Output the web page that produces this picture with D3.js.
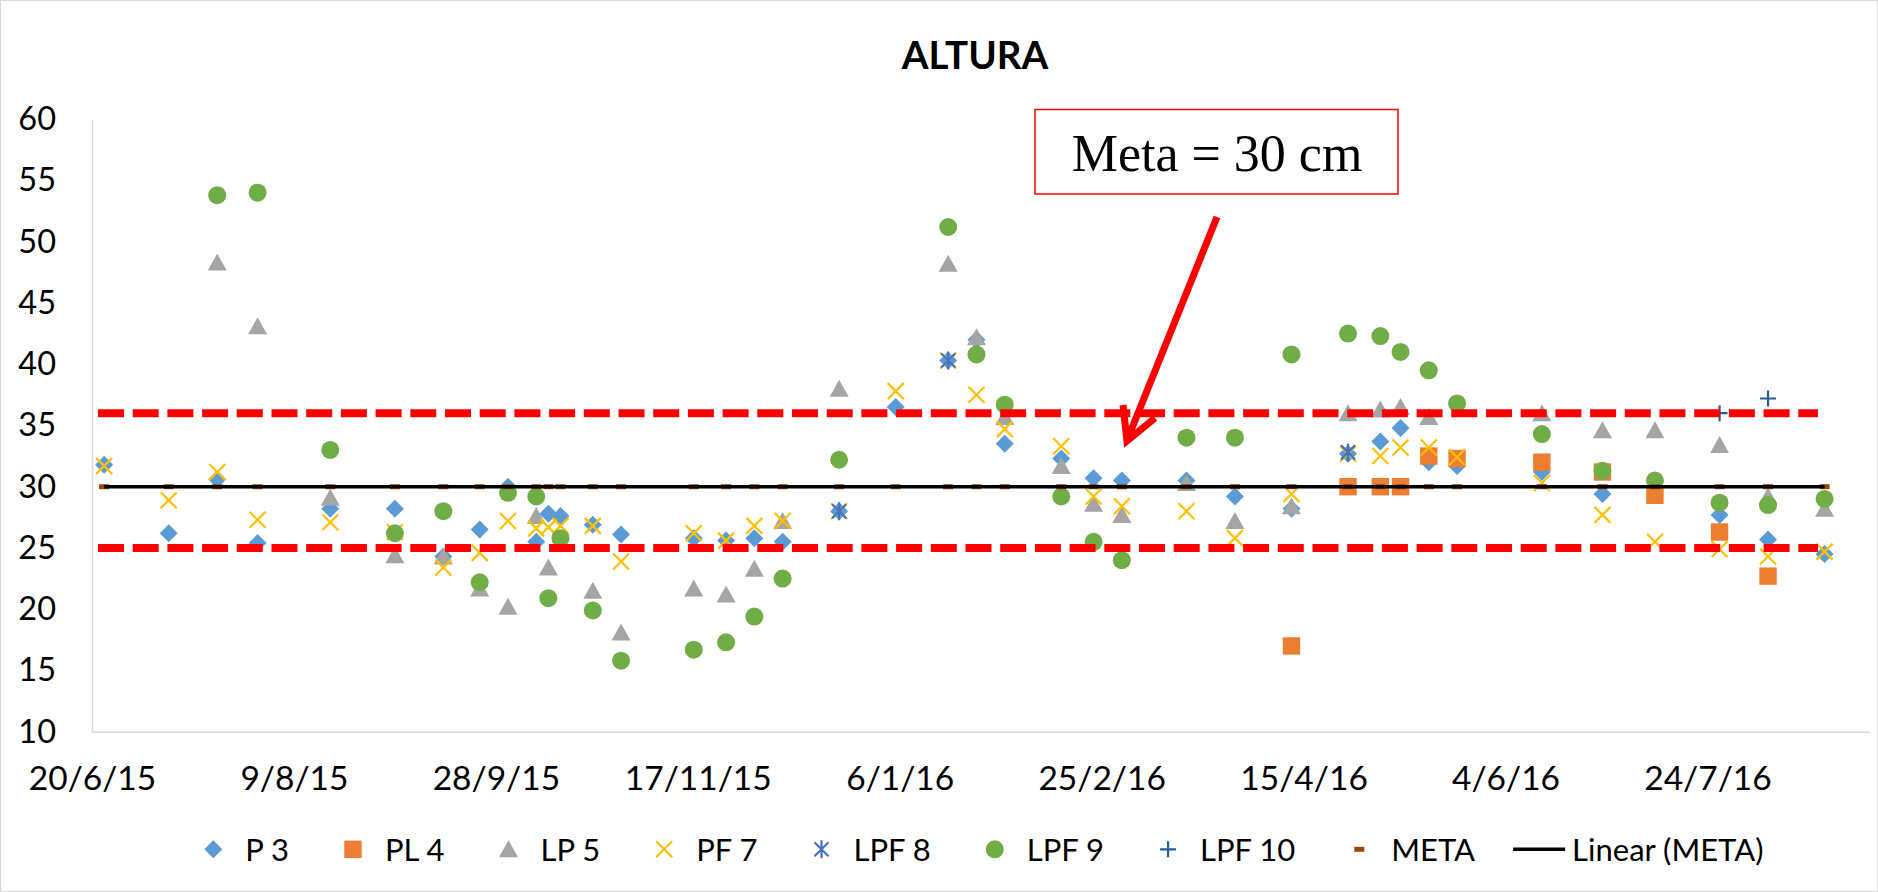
<!DOCTYPE html>
<html>
<head>
<meta charset="utf-8">
<script src="https://cdn.jsdelivr.net/npm/d3@7"></script>
<style>
  body { margin: 0; background: #fff; }
  svg { display: block; font-family: Lato, "Open Sans", sans-serif; }
</style>
</head>
<body>
<div id="chart"></div>
<script>
// sample dates (one per column of markers)
var dates = ["2015-06-23","2015-07-09","2015-07-21","2015-07-31","2015-08-18","2015-09-03","2015-09-15","2015-09-24",
  "2015-10-01","2015-10-08","2015-10-11","2015-10-14","2015-10-22","2015-10-29","2015-11-16","2015-11-24",
  "2015-12-01","2015-12-08","2015-12-22","2016-01-05","2016-01-18","2016-01-25","2016-02-01","2016-02-15",
  "2016-02-23","2016-03-01","2016-03-17","2016-03-29","2016-04-12","2016-04-26","2016-05-04","2016-05-09",
  "2016-05-16","2016-05-23","2016-06-13","2016-06-28","2016-07-11","2016-07-27","2016-08-08","2016-08-22"];

var p3   = [31.8,26.2,30.6,25.4,28.2,28.2,24.3,26.5,30.0,25.5,27.8,27.6,26.9,26.1,25.8,25.6,25.8,25.5,28.0,36.5,
            40.3,42.0,33.5,32.3,30.7,30.5,30.5,29.2,28.2,32.7,33.7,34.8,32.0,31.7,31.2,29.4,null,27.7,25.7,24.5];
var pl4  = [null,null,null,null,null,null,null,null,null,null,null,null,null,null,null,null,null,null,null,null,
            null,null,null,null,null,null,null,null,17.0,30.0,30.0,30.0,32.5,32.3,32.0,31.2,29.3,26.3,22.7,null];
var lp5  = [null,null,48.3,43.1,29.1,24.4,24.3,21.7,20.2,27.6,23.4,null,21.5,18.1,21.7,21.2,23.3,27.2,38.0,null,
            48.2,42.2,35.7,31.7,28.6,27.7,30.3,27.2,28.4,36.0,36.3,36.5,35.7,null,36.0,34.6,34.6,33.4,29.2,28.2];
var pf7  = [31.7,28.9,31.2,27.3,27.1,26.3,23.4,24.6,27.2,26.6,26.7,26.8,26.8,23.9,26.2,25.6,26.8,27.2,28.0,37.8,
            40.3,37.5,34.7,33.3,29.2,28.4,28.0,25.8,29.4,32.7,32.5,33.2,33.2,32.4,30.3,27.7,25.5,24.9,24.3,24.7];
var lpf8 = [null,null,null,null,null,null,null,null,null,null,null,null,null,null,null,null,null,null,28.0,null,
            40.3,null,null,null,null,null,null,null,null,32.8,null,null,null,null,null,null,null,null,null,null];
var lpf9 = [null,null,53.8,54.0,33.0,26.2,28.0,22.2,29.5,29.2,20.9,25.8,19.9,15.8,16.7,17.3,19.4,22.5,32.2,null,
            51.2,40.8,36.7,29.2,25.5,24.0,34.0,34.0,40.8,42.5,42.3,41.0,39.5,36.8,34.3,31.3,30.5,28.7,28.5,29.0];
var lpf10 = [null,null,null,null,null,null,null,null,null,null,null,null,null,null,null,null,null,null,null,null,
            null,null,null,null,null,null,null,null,null,null,null,null,null,null,null,null,null,36.0,37.2,null];
var meta = dates.map(function() { return 30; });

var xTicks = ["2015-06-20","2015-08-09","2015-09-28","2015-11-17","2016-01-06","2016-02-25","2016-04-15","2016-06-04","2016-07-24"];
var yTicks = [10,15,20,25,30,35,40,45,50,55,60];
var limits = [36, 25];

var W = 1878, H = 892;
var parse = d3.timeParse("%Y-%m-%d");
var fmt = function(d) { return d.getDate() + "/" + (d.getMonth() + 1) + "/" + String(d.getFullYear()).slice(2); };

var svg = d3.select("#chart").append("svg").attr("width", W).attr("height", H);

svg.append("rect").attr("x", 0.5).attr("y", 0.5).attr("width", W - 1).attr("height", H - 1)
  .attr("fill", "#fff").attr("stroke", "#d9d9d9");

var x = d3.scaleTime().domain([parse("2015-06-20"), parse("2016-09-02")]).range([92, 1869]);
var y = d3.scaleLinear().domain([10, 60]).range([731.7, 119.2]);

// title
svg.append("text").attr("x", 975).attr("y", 69).attr("text-anchor", "middle")
  .style("font-size", "38.5px").style("font-weight", "bold").text("ALTURA");

// axes
var yAxis = svg.append("g").attr("transform", "translate(92,0)")
  .call(d3.axisLeft(y).tickValues(yTicks).tickSize(0).tickSizeOuter(0).tickPadding(36));
yAxis.select(".domain").attr("stroke", "#d9d9d9").attr("stroke-width", 1.5);
yAxis.selectAll("text").style("font-size", "32.5px").style("font-family", "Lato").attr("fill", "#000");

var xAxis = svg.append("g").attr("transform", "translate(0,731.7)")
  .call(d3.axisBottom(x).tickValues(xTicks.map(parse)).tickFormat(fmt).tickSize(0).tickSizeOuter(0).tickPadding(35));
xAxis.select(".domain").attr("stroke", "#d9d9d9").attr("stroke-width", 1.5);
xAxis.selectAll("text").style("font-size", "33.5px").style("font-family", "Lato").attr("fill", "#000");

// marker shapes
function sq(s) { return "M" + (-s) + "," + (-s) + "H" + s + "V" + s + "H" + (-s) + "Z"; }
var shapes = {
  diamond:  function(g, c) { g.append("path").attr("d", "M0,-9L9,0L0,9L-9,0Z").attr("fill", c); },
  square:   function(g, c) { g.append("path").attr("d", sq(8.7)).attr("fill", c); },
  triangle: function(g, c) { g.append("path").attr("d", "M0,-9L9.5,8L-9.5,8Z").attr("fill", c); },
  cross:    function(g, c) { g.append("path").attr("d", "M-8,-8L8,8M8,-8L-8,8").attr("stroke", c).attr("stroke-width", 2.2); },
  star:     function(g, c) { g.append("path").attr("d", "M-7,-7L7,7M7,-7L-7,7M0,-9V9").attr("stroke", c).attr("stroke-width", 2.2); },
  circle:   function(g, c) { g.append("circle").attr("r", 9).attr("fill", c); },
  plus:     function(g, c) { g.append("path").attr("d", "M-8,0H8M0,-8V8").attr("stroke", c).attr("stroke-width", 2.2); },
  dash:     function(g, c) { g.append("rect").attr("x", -5).attr("y", -2.5).attr("width", 10).attr("height", 5).attr("fill", c); }
};

var series = [
  { name: "P 3",    values: p3,    color: "#5b9bd5", shape: "diamond" },
  { name: "PL 4",   values: pl4,   color: "#ed7d31", shape: "square" },
  { name: "LP 5",   values: lp5,   color: "#a5a5a5", shape: "triangle" },
  { name: "PF 7",   values: pf7,   color: "#ffc000", shape: "cross" },
  { name: "LPF 8",  values: lpf8,  color: "#4472c4", shape: "star" },
  { name: "LPF 9",  values: lpf9,  color: "#70ad47", shape: "circle" },
  { name: "LPF 10", values: lpf10, color: "#255e91", shape: "plus" },
  { name: "META",   values: meta,  color: "#9e480e", shape: "dash" }
];

var plot = svg.append("g");
series.forEach(function(s) {
  var pts = dates.map(function(d, i) { return { date: parse(d), v: s.values[i] }; })
    .filter(function(p) { return p.v != null; });
  plot.append("g").selectAll("g").data(pts).join("g")
    .attr("transform", function(p) { return "translate(" + x(p.date) + "," + y(p.v) + ")"; })
    .each(function() { shapes[s.shape](d3.select(this), s.color); });
});

// Linear (META) trend line: least squares fit
var xs = dates.map(function(d) { return +parse(d); });
var mx = d3.mean(xs), my = d3.mean(meta);
var num = d3.sum(xs, function(v, i) { return (v - mx) * (meta[i] - my); });
var den = d3.sum(xs, function(v) { return (v - mx) * (v - mx); });
var slope = num / den, icpt = my - slope * mx;
var x0 = d3.min(xs), x1 = d3.max(xs);
svg.append("line")
  .attr("x1", x(new Date(x0))).attr("y1", y(icpt + slope * x0))
  .attr("x2", x(new Date(x1))).attr("y2", y(icpt + slope * x1))
  .attr("stroke", "#000").attr("stroke-width", 3.5);

// red dashed limit lines
svg.selectAll(".limit").data(limits).join("line").attr("class", "limit")
  .attr("x1", 98).attr("x2", 1818)
  .attr("y1", function(d) { return y(d); }).attr("y2", function(d) { return y(d); })
  .attr("stroke", "#ff0000").attr("stroke-width", 8).attr("stroke-dasharray", "26 8.7");

// annotation box + arrow
svg.append("rect").attr("x", 1035).attr("y", 109.5).attr("width", 363).attr("height", 84.5)
  .attr("fill", "#fff").attr("stroke", "#ff0000").attr("stroke-width", 1.5);
svg.append("text").attr("x", 1217).attr("y", 170.7).attr("text-anchor", "middle")
  .style("font-family", "'Liberation Serif', 'Times New Roman', serif").style("font-size", "52px")
  .text("Meta = 30 cm");
svg.append("line").attr("x1", 1217).attr("y1", 217).attr("x2", 1128).attr("y2", 438)
  .attr("stroke", "#ff0000").attr("stroke-width", 7);
svg.append("path").attr("d", "M1123,405L1127,441L1155,418")
  .attr("fill", "none").attr("stroke", "#ff0000").attr("stroke-width", 7).attr("stroke-linejoin", "miter");

// legend
var legend = svg.append("g");
var cx = 213.3, ly = 849.3;
series.concat([{ name: "Linear (META)", line: true }]).forEach(function(s) {
  var g = legend.append("g").attr("transform", "translate(" + cx + "," + ly + ")");
  if (s.line) {
    g.append("line").attr("x1", -26).attr("x2", 26).attr("stroke", "#000").attr("stroke-width", 3.5);
  } else {
    shapes[s.shape](g, s.color);
  }
  var t = g.append("text").attr("x", s.line ? 33 : 32).attr("y", 11.5)
    .style("font-size", "31px").text(s.name);
  cx = cx + (s.line ? 33 : 32) + t.node().getComputedTextLength() + 64;
});
</script>
</body>
</html>
